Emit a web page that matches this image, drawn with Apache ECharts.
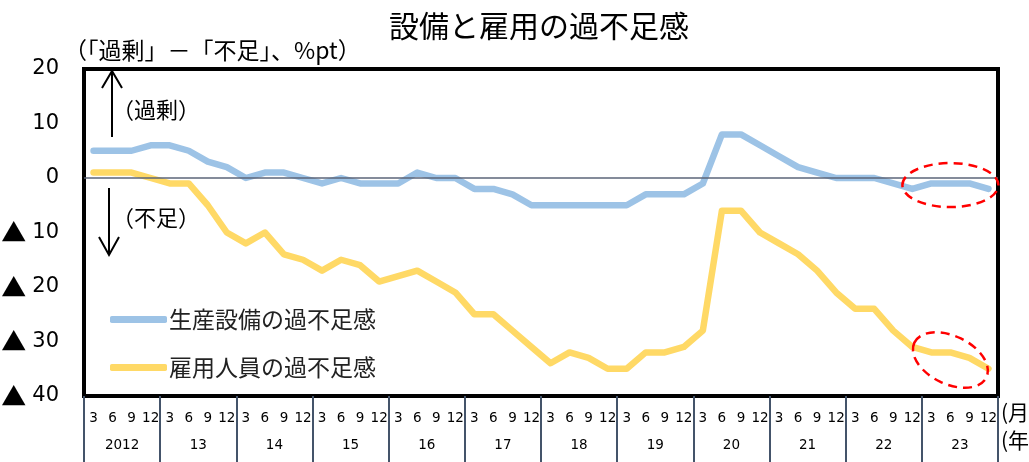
<!DOCTYPE html>
<html>
<head>
<meta charset="utf-8">
<script src="https://cdn.jsdelivr.net/npm/echarts@6/dist/echarts.min.js"></script>
<style>
  html,body{margin:0;padding:0;background:#fff;}
  #main{width:1029px;height:462px;}
</style>
</head>
<body>
<div id="main"></div>
<script>
// 四半期（月）と年
var quarterMonths = ['3','6','9','12']
var years = ['2012','13','14','15','16','17','18','19','20','21','22','23']

// 生産設備の過不足感
var equipment = [5,5,5,6,6,5,3,2,0,1, 1,0,-1,0,-1,-1,-1,1,0,0,
  -2,-2,-3,-5,-5,-5,-5,-5,-5,-3, -3,-3,-1,8,8,6,4,2,1,0,
  0,0,-1,-2,-1,-1,-1,-2]
// 雇用人員の過不足感
var employment = [1,1,1,0,-1,-1,-5,-10,-12,-10, -14,-15,-17,-15,-16,-19,-18,-17,-19,-21,
  -25,-25,-28,-31,-34,-32,-33,-35,-35,-32, -32,-31,-28,-6,-6,-10,-12,-14,-17,-21,
  -24,-24,-28,-31,-32,-32,-33,-35]

var months = []
years.forEach(function(){ quarterMonths.forEach(function(m){ months.push(m) }) })

var jp = '"Noto Sans CJK JP", sans-serif'
var num = '"DejaVu Sans", sans-serif'

var myChart = echarts.init(document.getElementById('main'), null, {renderer:'canvas'})

myChart.setOption({
  animation:false,
  backgroundColor:'#fff',
  grid:{
    left:84, top:69, right:31, bottom:66, outerBoundsMode:'none',
    show:true, borderColor:'#000', borderWidth:4, backgroundColor:'transparent'
  },
  legend:{
    orient:'vertical', left:105, top:303,
    itemWidth:57, itemHeight:7, itemGap:25,
    icon:'roundRect',
    textStyle:{fontSize:23, color:'#222', fontFamily:jp, padding:[0,0,0,-3]},
    data:['生産設備の過不足感','雇用人員の過不足感']
  },
  xAxis:[
    {
      type:'category', data:months, position:'bottom', boundaryGap:true,
      axisLine:{show:false}, axisTick:{show:false},
      axisLabel:{interval:0, margin:15, fontSize:13.5, color:'#000', fontFamily:num}
    },
    {
      type:'category', data:years, position:'bottom', boundaryGap:true,
      axisLine:{show:false},
      axisTick:{show:true, interval:0, length:66, lineStyle:{color:'#44546a', width:2}},
      axisLabel:{interval:0, margin:42, fontSize:13.5, color:'#000', fontFamily:num}
    }
  ],
  yAxis:{
    type:'value', min:-40, max:20, interval:10,
    axisLine:{show:false}, axisTick:{show:false}, splitLine:{show:false},
    axisLabel:{
      margin:25, fontSize:21, color:'#000', fontFamily:num,
      formatter:function(v){ return v < 0 ? '{tri|▲}' + (-v) : String(v) },
      rich:{tri:{fontSize:25, fontFamily:jp, color:'#000', padding:[0,6,0,0]}}
    }
  },
  series:[
    {
      name:'生産設備の過不足感', type:'line', data:equipment,
      showSymbol:false, z:3,
      itemStyle:{color:'#9dc3e6'},
      lineStyle:{color:'#9dc3e6', width:6.5, cap:'round', join:'round'}
    },
    {
      name:'雇用人員の過不足感', type:'line', data:employment,
      showSymbol:false, z:3,
      itemStyle:{color:'#ffd966'},
      lineStyle:{color:'#ffd966', width:6.5, cap:'round', join:'round'}
    },
    {
      // ゼロ線
      type:'line', data:[], silent:true, z:2,
      markLine:{
        silent:true, symbol:['none','none'], label:{show:false},
        lineStyle:{color:'#5b6578', width:1.5, type:'solid'},
        data:[{yAxis:0}]
      }
    }
  ]
})

// 注記（タイトル・単位・矢印・点線の楕円）
var c1 = myChart.convertToPixel({xAxisIndex:0, yAxisIndex:0}, [44.8, -1.3])
var c2 = myChart.convertToPixel({xAxisIndex:0, yAxisIndex:0}, [45.4, -33.4])
var redDash = {stroke:'#ff0000', fill:'none', lineWidth:2.5, lineDash:[9,6]}
var arrow = {stroke:'#000', lineWidth:2, fill:'none'}

myChart.setOption({
  graphic:[
    {type:'text', left:389, top:11, style:{text:'設備と雇用の過不足感', fontSize:30, fill:'#000', fontFamily:jp}},
    {type:'text', left:64, top:39, style:{text:'（「過剰」－「不足」、%pt）', fontSize:23, fill:'#000', fontFamily:jp}},
    {type:'text', left:112, top:99, style:{text:'（過剰）', fontSize:22, fill:'#000', fontFamily:jp}},
    {type:'text', left:112, top:207, style:{text:'（不足）', fontSize:22, fill:'#000', fontFamily:jp}},
    {type:'text', left:1001, top:402, style:{text:'(月)', fontSize:21, fill:'#000', fontFamily:jp}},
    {type:'text', left:1001, top:430, style:{text:'(年)', fontSize:21, fill:'#000', fontFamily:jp}},
    {type:'line', shape:{x1:112, y1:72, x2:112, y2:137}, style:arrow},
    {type:'polyline', shape:{points:[[102,88],[112,71],[122,88]]}, style:arrow},
    {type:'line', shape:{x1:109, y1:188, x2:109, y2:254}, style:arrow},
    {type:'polyline', shape:{points:[[99,237],[109,255],[119,237]]}, style:arrow},
    {type:'ellipse', shape:{cx:0, cy:0, rx:48, ry:22}, x:c1[0], y:c1[1], style:redDash, z:10},
    {type:'ellipse', shape:{cx:0, cy:0, rx:40, ry:24}, x:c2[0], y:c2[1], rotation:-0.45, style:redDash, z:10}
  ]
})
</script>
</body>
</html>
